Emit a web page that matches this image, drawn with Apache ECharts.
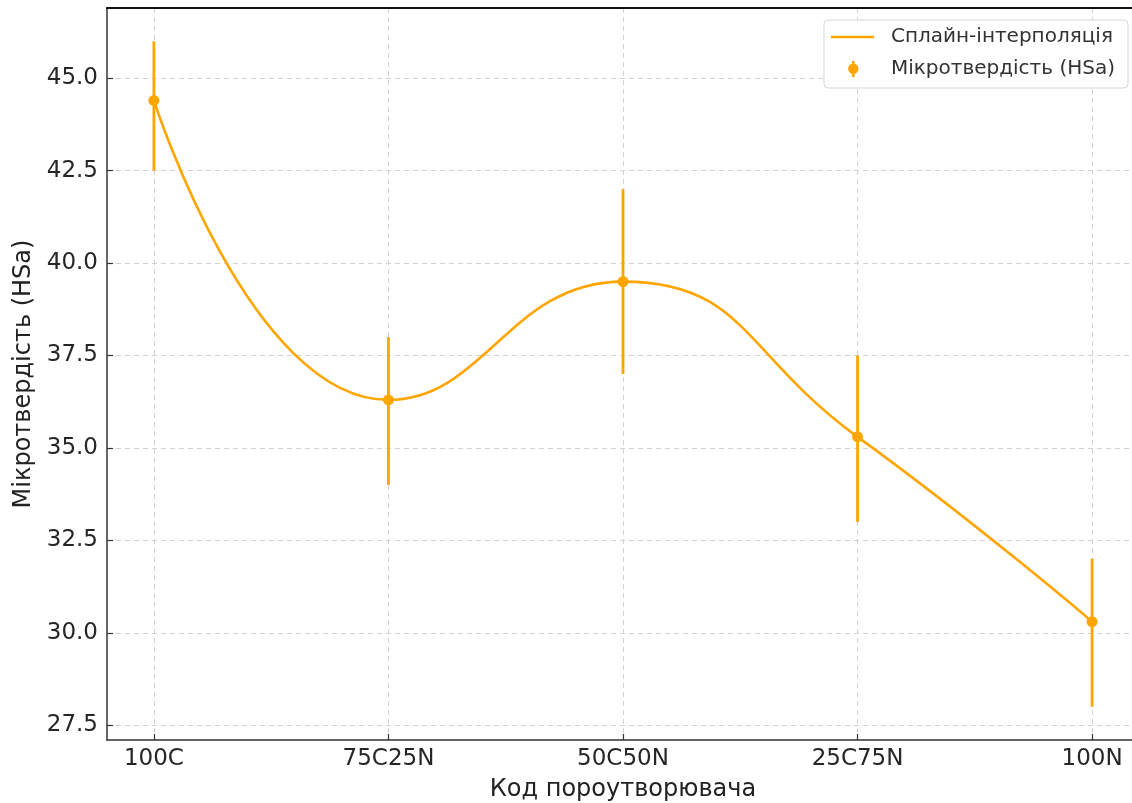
<!DOCTYPE html>
<html>
<head>
<meta charset="utf-8">
<script src="https://cdn.jsdelivr.net/npm/echarts@6/dist/echarts.min.js"></script>
<style>html,body{margin:0;padding:0;background:#fff}#c{width:1132px;height:803px}</style>
</head>
<body>
<div id="c"></div>
<script>
const categories = ['100C', '75C25N', '50C50N', '25C75N', '100N'];
const hardness = [44.4, 36.3, 39.5, 35.3, 30.3];
const errLow = [42.5, 34.0, 37.0, 33.0, 28.0];
const errHigh = [46.0, 38.0, 42.0, 37.5, 32.0];
const yTicks = [27.5, 30.0, 32.5, 35.0, 37.5, 40.0, 42.5, 45.0];
const xTicks = [0, 1, 2, 3, 4];

const ORANGE = '#FFA500';
const FONT = 'DejaVu Sans';

const lineData = hardness.map((v, i) => [i, v]);
const errData = hardness.map((v, i) => [i, errLow[i], errHigh[i], v]);

const chart = echarts.init(document.getElementById('c'), null, {renderer: 'canvas'});
chart.setOption({
  animation: false,
  backgroundColor: '#fff',
  textStyle: {fontFamily: FONT},
  grid: {
    left: 107, top: 8, right: -7, bottom: 63,
    outerBoundsMode: 'none',
    containLabel: false,
    show: false
  },
  legend: {
    orient: 'vertical',
    right: 4, top: 20,
    backgroundColor: '#fff',
    borderColor: '#d6d6d6', borderWidth: 1, borderRadius: 4,
    padding: [7, 13, 9, 7],
    itemGap: 12,
    itemWidth: 55, itemHeight: 16,
    textStyle: {fontFamily: FONT, fontSize: 20, color: '#333'},
    data: [
      {name: 'Сплайн-інтерполяція', icon: 'path://M0,0L0.01,0L0,0.01Z M55,16L54.99,16L55,15.99Z M0,6.7L43,6.7L43,9.3L0,9.3Z'},
      {name: 'Мікротвердість (HSa)', icon: 'path://M0,0L0.01,0L0,0.01Z M55,16L54.99,16L55,15.99Z M20.6,0L23.4,0L23.4,17L20.6,17Z M22,2.7A5.5,5.5 0 1,1 22,13.7A5.5,5.5 0 1,1 22,2.7Z'}
    ]
  },
  xAxis: [{
    type: 'value', min: -0.2, max: 4.2,
    name: 'Код пороутворювача', nameLocation: 'middle', nameGap: 38,
    nameTextStyle: {fontFamily: FONT, fontSize: 24, color: '#222'},
    axisLine: {show: true, onZero: false, lineStyle: {color: '#333', width: 1.5}},
    axisTick: {show: true, inside: true, length: 6, customValues: xTicks, lineStyle: {color: '#333', width: 1.2}},
    axisLabel: {customValues: xTicks, margin: 8, fontFamily: FONT, fontSize: 23, color: '#262626',
      formatter: v => categories[Math.round(v)] || ''},
    splitLine: {show: true, lineStyle: {color: '#d2d2d2', type: [5, 4], width: 1}}
  }, {
    type: 'value', min: -0.2, max: 4.2, position: 'top',
    axisLine: {show: true, onZero: false, lineStyle: {color: '#111', width: 2}},
    axisTick: {show: false}, axisLabel: {show: false}, splitLine: {show: false}
  }],
  yAxis: {
    type: 'value', min: 27.1, max: 46.9,
    name: 'Мікротвердість (HSa)', nameLocation: 'middle', nameGap: 69, nameRotate: 90,
    nameTextStyle: {fontFamily: FONT, fontSize: 24, color: '#222'},
    axisLine: {show: true, onZero: false, lineStyle: {color: '#333', width: 1.5}},
    axisTick: {show: true, inside: true, length: 6, customValues: yTicks, lineStyle: {color: '#333', width: 1.2}},
    axisLabel: {customValues: yTicks, margin: 9, fontFamily: FONT, fontSize: 23, color: '#262626',
      formatter: v => v.toFixed(1)},
    splitLine: {show: true, lineStyle: {color: '#d2d2d2', type: [5, 4], width: 1}}
  },
  series: [
    {
      name: 'Сплайн-інтерполяція',
      type: 'line',
      data: lineData,
      smooth: 0.5,
      symbol: 'none',
      showSymbol: false,
      lineStyle: {color: ORANGE, width: 2.6},
      itemStyle: {color: ORANGE},
      z: 3
    },
    {
      name: 'Мікротвердість (HSa)',
      type: 'custom',
      data: errData,
      encode: {x: 0, y: [1, 2, 3]},
      itemStyle: {color: ORANGE},
      z: 4,
      renderItem: function (params, api) {
        const x = api.value(0);
        const lo = api.coord([x, api.value(1)]);
        const hi = api.coord([x, api.value(2)]);
        const c = api.coord([x, api.value(3)]);
        return {
          type: 'group',
          children: [
            {type: 'line', shape: {x1: lo[0], y1: lo[1], x2: hi[0], y2: hi[1]},
             style: {stroke: ORANGE, lineWidth: 2.8}},
            {type: 'circle', shape: {cx: c[0], cy: c[1], r: 5.5},
             style: {fill: ORANGE}}
          ]
        };
      }
    }
  ]
});
</script>
</body>
</html>
